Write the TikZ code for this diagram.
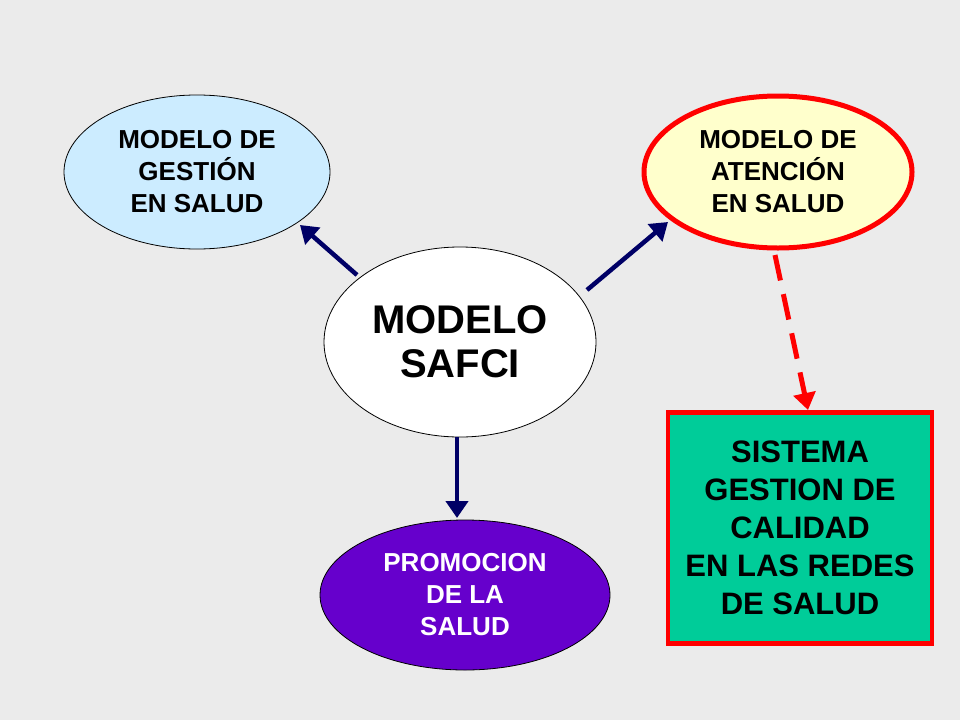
\documentclass[tikz,border=0pt]{standalone}
\usepackage{fontspec}
\setmainfont{Liberation Sans}
\usetikzlibrary{shapes.geometric,arrows.meta}
\definecolor{bg}{HTML}{EBEBEB}
\definecolor{lblue}{HTML}{CCECFF}
\definecolor{lyel}{HTML}{FFFFCC}
\definecolor{purp}{HTML}{6600CC}
\definecolor{teal1}{HTML}{00CC99}
\definecolor{navy1}{HTML}{000066}
\begin{document}
\begin{tikzpicture}[x=1pt,y=-1pt,
 ell/.style={ellipse,draw=black,line width=0.8pt,align=center,font=\bfseries,inner sep=0pt},
 arr/.style={draw=navy1,line width=4.5pt,-{Triangle[length=17pt,width=22pt]}},
 small/.style={font=\fontsize{26}{32}\selectfont\bfseries}]
\fill[bg] (0,0) rectangle (960,720);
\useasboundingbox (0,0) rectangle (960,720);
\node[ell,fill=lblue,minimum width=266pt,minimum height=154pt,small] (g) at (197,172) {MODELO DE\\GESTIÓN\\ EN SALUD};
\node[ell,fill=lyel,draw=red,line width=5pt,minimum width=268pt,minimum height=152pt,small] (a) at (778,172) {MODELO DE\\ATENCIÓN\\ EN SALUD};
\node[ell,fill=white,minimum width=272pt,minimum height=190pt,font=\fontsize{40}{44}\selectfont\bfseries] (s) at (460,342) {MODELO\\ SAFCI};
\node[ell,fill=purp,text=white,minimum width=290pt,minimum height=150pt,small] (p) at (465,595) {PROMOCION\\DE LA\\ SALUD};
\node[draw=red,line width=4.5pt,fill=teal1,minimum width=264pt,minimum height=231pt,align=center,font=\fontsize{31}{38}\selectfont\bfseries] (b) at (800,528) {SISTEMA\\ GESTION DE\\ CALIDAD\\EN LAS REDES\\DE SALUD};
\coordinate (s1) at (357,275); \coordinate (g1) at (300,225);
\coordinate (s2) at (587,290); \coordinate (a1) at (668,222);
\coordinate (s3) at (457,437); \coordinate (p1) at (457,518);
\coordinate (a2) at (775,255); \coordinate (b1) at (808,410);
\draw[arr] (s1) -- (g1);
\draw[arr] (s2) -- (a1);
\draw[arr] (s3) -- (p1);
\draw[draw=red,line width=5pt,dash pattern=on 26pt off 14pt,-{Triangle[length=17pt,width=22pt]}] (a2) -- (b1);
\end{tikzpicture}
\end{document}
